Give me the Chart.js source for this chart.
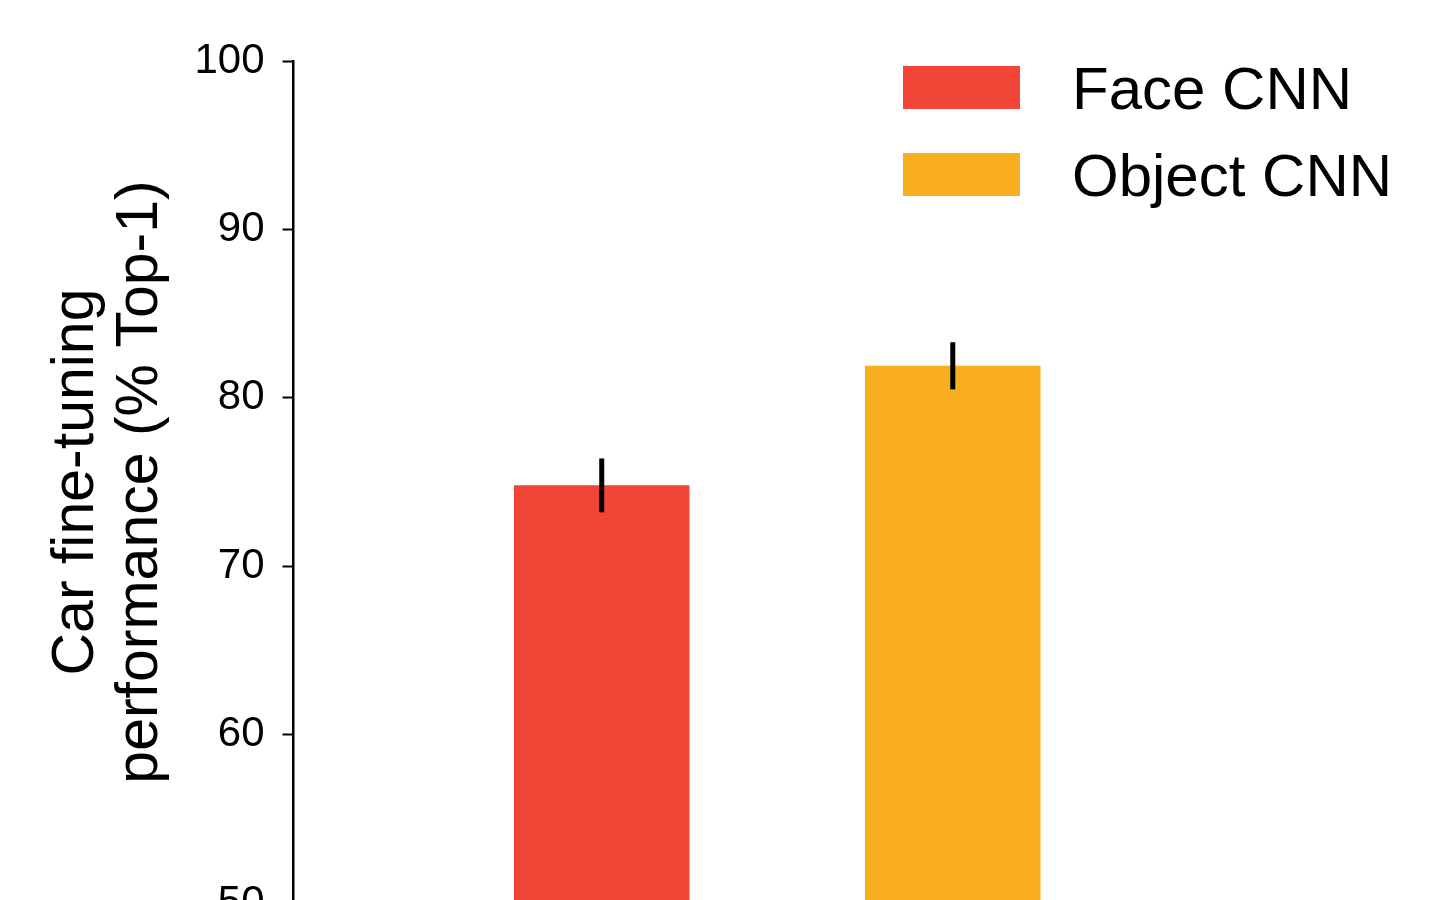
<!DOCTYPE html>
<html>
<head>
<meta charset="utf-8">
<script src="https://cdn.jsdelivr.net/npm/chart.js@4/dist/chart.umd.min.js"></script>
<style>
  html, body { margin: 0; padding: 0; background: #fff; overflow: hidden; }
  canvas { display: block; }
</style>
</head>
<body>
<canvas id="chart" width="1444" height="960"></canvas>
<script>
// Fine-tuning results on the car dataset
const models = ['Face CNN', 'Object CNN'];
const top1 = [74.8, 81.9];          // mean top-1 accuracy (%)
const top1Err = [1.6, 1.4];         // error bar half-length (%)
const yTicks = [50, 60, 70, 80, 90, 100];
const barColors = ['#F04537', '#F9AF1D'];

Chart.defaults.font.family = '"Liberation Sans", Arial, Helvetica, sans-serif';
Chart.defaults.color = '#000';

// vertical error bars drawn on top of each bar
const errorBars = {
  id: 'errorBars',
  afterDatasetsDraw(chart, args, opts) {
    const { ctx, scales: { y } } = chart;
    ctx.save();
    ctx.strokeStyle = opts.color;
    ctx.lineWidth = opts.width;
    chart.data.datasets.forEach((ds, i) => {
      const bar = chart.getDatasetMeta(i).data[0];
      const v = ds.data[0].y;
      const e = ds.err;
      ctx.beginPath();
      ctx.moveTo(bar.x, y.getPixelForValue(v + e));
      ctx.lineTo(bar.x, y.getPixelForValue(v - e));
      ctx.stroke();
    });
    ctx.restore();
  }
};

// legend: colour swatch followed by the series name
const keyLegend = {
  id: 'keyLegend',
  afterDraw(chart, args, opts) {
    const ctx = chart.ctx;
    ctx.save();
    ctx.font = opts.font;
    ctx.textBaseline = 'alphabetic';
    ctx.textAlign = 'left';
    chart.data.datasets.forEach((ds, i) => {
      const top = opts.top + i * opts.rowGap;
      ctx.fillStyle = ds.backgroundColor;
      ctx.fillRect(opts.left, top, opts.boxWidth, opts.boxHeight);
      ctx.fillStyle = '#000';
      ctx.fillText(ds.label, opts.textLeft, top + opts.baseline);
    });
    ctx.restore();
  }
};

const datasets = models.map((name, i) => ({
  label: name,
  data: [{ x: i, y: top1[i] }],
  err: top1Err[i],
  backgroundColor: barColors[i],
  borderWidth: 0,
  grouped: false,
  categoryPercentage: 1.0,
  barPercentage: 0.5
}));

new Chart(document.getElementById('chart'), {
  type: 'bar',
  data: { datasets },
  plugins: [errorBars, keyLegend],
  options: {
    responsive: false,
    animation: false,
    layout: { padding: { left: 41, right: 183, top: 61, bottom: 57 } },
    plugins: {
      legend: { display: false },
      tooltip: { enabled: false },
      errorBars: { color: '#000', width: 5 },
      keyLegend: {
        font: '60px "Liberation Sans", Arial, sans-serif',
        left: 903, top: 66, boxWidth: 117, boxHeight: 43,
        rowGap: 87, textLeft: 1072, baseline: 43
      }
    },
    scales: {
      x: {
        type: 'linear',
        min: -0.878,
        max: 1.878,
        offset: false,
        display: false,
        afterBuildTicks: s => { s.ticks = models.map((m, i) => ({ value: i })); }
      },
      y: {
        min: 50,
        max: 100,
        afterBuildTicks: s => { s.ticks = yTicks.map(v => ({ value: v })); },
        ticks: { font: { size: 42 }, color: '#000', padding: 18 },
        grid: { drawOnChartArea: false, tickLength: 11, tickWidth: 2, tickColor: '#000' },
        border: { color: '#000', width: 2.5 },
        title: {
          display: true,
          text: ['Car fine-tuning', 'performance (% Top-1)'],
          font: { size: 59, lineHeight: 1.08 },
          color: '#000',
          padding: { top: 4, bottom: 4 }
        }
      }
    }
  }
});
</script>
</body>
</html>
